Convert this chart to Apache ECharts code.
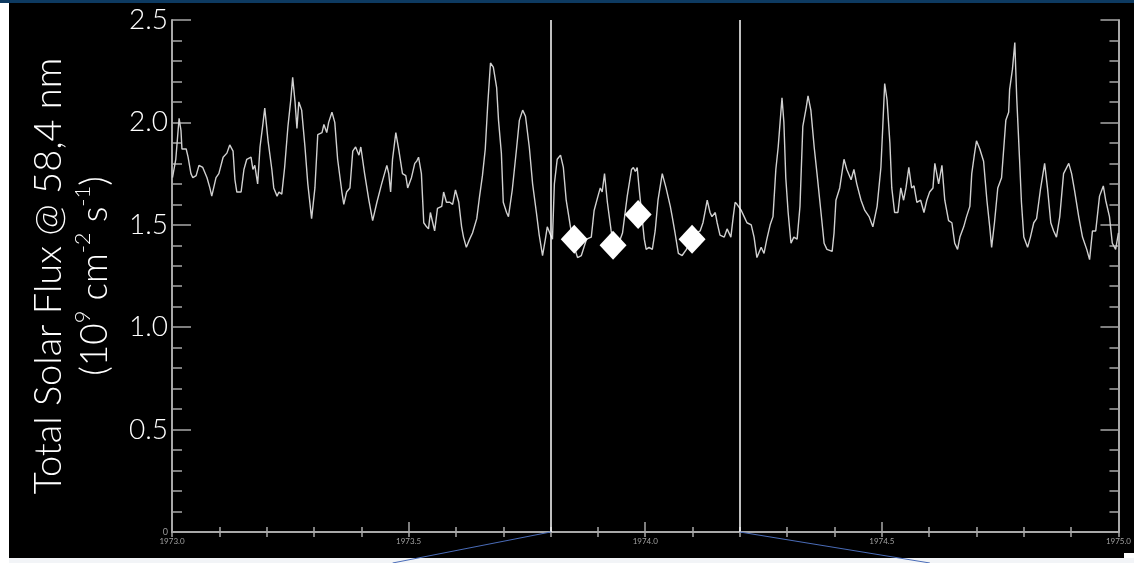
<!DOCTYPE html>
<html>
<head>
<meta charset="utf-8">
<script src="https://cdn.jsdelivr.net/npm/echarts@6/dist/echarts.min.js"></script>
<style>
html,body{margin:0;padding:0;background:#f2f4f7;}
#c{width:1134px;height:563px;}
</style>
</head>
<body>
<div id="c"></div>
<script>
// ---- data ----
const fluxSeries = [
[1973.001,1.73],[1973.008,1.82],[1973.015,2.02],[1973.019,1.96],[1973.021,1.87],[1973.030,1.87],[1973.034,1.83],[1973.040,1.75],[1973.044,1.73],[1973.051,1.74],[1973.057,1.79],[1973.065,1.78],[1973.074,1.73],[1973.080,1.68],[1973.084,1.64],[1973.093,1.73],[1973.099,1.75],[1973.108,1.83],[1973.116,1.85],[1973.122,1.89],[1973.129,1.86],[1973.133,1.72],[1973.137,1.66],[1973.146,1.66],[1973.152,1.77],[1973.158,1.82],[1973.167,1.83],[1973.171,1.77],[1973.175,1.79],[1973.181,1.70],[1973.186,1.88],[1973.192,1.99],[1973.196,2.07],[1973.203,1.91],[1973.211,1.77],[1973.215,1.68],[1973.222,1.64],[1973.226,1.66],[1973.232,1.65],[1973.238,1.78],[1973.245,1.98],[1973.251,2.11],[1973.255,2.22],[1973.260,2.10],[1973.264,1.97],[1973.268,2.10],[1973.274,2.06],[1973.281,1.88],[1973.287,1.70],[1973.295,1.53],[1973.302,1.68],[1973.308,1.94],[1973.317,1.95],[1973.321,1.99],[1973.327,1.95],[1973.331,2.00],[1973.338,2.05],[1973.344,2.00],[1973.350,1.82],[1973.359,1.66],[1973.363,1.60],[1973.369,1.66],[1973.376,1.68],[1973.382,1.86],[1973.388,1.88],[1973.395,1.84],[1973.399,1.88],
[1973.407,1.75],[1973.416,1.62],[1973.424,1.52],[1973.433,1.61],[1973.443,1.70],[1973.454,1.79],[1973.458,1.75],[1973.462,1.66],[1973.466,1.82],[1973.473,1.95],[1973.479,1.87],[1973.487,1.75],[1973.494,1.74],[1973.498,1.68],[1973.506,1.73],[1973.513,1.80],[1973.517,1.81],[1973.521,1.83],[1973.527,1.75],[1973.532,1.51],[1973.538,1.49],[1973.542,1.48],[1973.546,1.56],[1973.551,1.51],[1973.555,1.47],[1973.561,1.58],[1973.570,1.59],[1973.574,1.66],[1973.580,1.61],[1973.587,1.61],[1973.593,1.60],[1973.599,1.67],[1973.606,1.61],[1973.612,1.49],[1973.616,1.44],[1973.622,1.39],[1973.629,1.43],[1973.635,1.46],[1973.644,1.53],[1973.650,1.64],[1973.656,1.74],[1973.662,1.87],[1973.667,2.08],[1973.673,2.29],[1973.679,2.27],[1973.686,2.17],[1973.690,2.01],[1973.696,1.85],[1973.700,1.61],[1973.707,1.56],[1973.711,1.54],[1973.719,1.67],[1973.728,1.87],[1973.734,2.01],[1973.741,2.06],[1973.747,2.03],[1973.755,1.88],[1973.762,1.70],[1973.770,1.56],[1973.776,1.45],[1973.783,1.35],[1973.789,1.43],[1973.793,1.49],[1973.800,1.45],
[1973.804,1.43],[1973.808,1.70],[1973.814,1.82],[1973.821,1.84],[1973.827,1.78],[1973.833,1.62],[1973.842,1.49],[1973.850,1.39],[1973.857,1.34],[1973.865,1.35],[1973.876,1.43],[1973.886,1.44],[1973.892,1.57],[1973.899,1.63],[1973.905,1.68],[1973.909,1.66],[1973.914,1.75],[1973.920,1.61],[1973.928,1.47],[1973.935,1.38],[1973.941,1.39],[1973.952,1.46],[1973.962,1.64],[1973.971,1.77],[1973.975,1.78],[1973.979,1.76],[1973.983,1.78],[1973.987,1.68],[1973.994,1.52],[1973.998,1.43],[1974.002,1.38],[1974.008,1.39],[1974.015,1.38],[1974.021,1.47],[1974.027,1.62],[1974.036,1.75],[1974.044,1.68],[1974.053,1.59],[1974.057,1.54],[1974.063,1.46],[1974.070,1.36],[1974.078,1.35],[1974.087,1.38],[1974.097,1.43],[1974.108,1.46],[1974.116,1.47],[1974.122,1.51],[1974.127,1.57],[1974.131,1.62],[1974.137,1.56],[1974.141,1.54],[1974.148,1.56],[1974.152,1.51],[1974.158,1.45],[1974.167,1.44],[1974.173,1.48],[1974.181,1.44],[1974.186,1.54],[1974.190,1.61],[1974.194,1.60],[1974.203,1.57],
[1974.209,1.54],[1974.215,1.51],[1974.224,1.50],[1974.230,1.44],[1974.236,1.34],[1974.245,1.39],[1974.251,1.36],[1974.257,1.43],[1974.264,1.50],[1974.270,1.54],[1974.276,1.77],[1974.281,1.88],[1974.285,2.00],[1974.289,2.12],[1974.293,2.00],[1974.297,1.73],[1974.302,1.56],[1974.308,1.41],[1974.314,1.44],[1974.321,1.43],[1974.327,1.59],[1974.333,1.98],[1974.340,2.07],[1974.344,2.13],[1974.350,2.06],[1974.357,1.88],[1974.363,1.75],[1974.371,1.57],[1974.378,1.41],[1974.384,1.38],[1974.395,1.37],[1974.399,1.46],[1974.403,1.62],[1974.411,1.68],[1974.420,1.82],[1974.426,1.77],[1974.435,1.72],[1974.441,1.77],[1974.447,1.70],[1974.456,1.62],[1974.464,1.57],[1974.473,1.54],[1974.481,1.49],[1974.490,1.59],[1974.498,1.78],[1974.502,1.98],[1974.506,2.19],[1974.511,2.11],[1974.517,1.90],[1974.521,1.68],[1974.527,1.56],[1974.534,1.56],[1974.540,1.68],[1974.546,1.62],[1974.551,1.68],[1974.557,1.78],[1974.563,1.68],[1974.568,1.69],[1974.574,1.61],[1974.582,1.62],[1974.589,1.56],[1974.595,1.62],
[1974.601,1.66],[1974.608,1.68],[1974.612,1.80],[1974.620,1.70],[1974.627,1.79],[1974.633,1.62],[1974.641,1.52],[1974.648,1.51],[1974.654,1.41],[1974.660,1.38],[1974.665,1.44],[1974.673,1.49],[1974.679,1.54],[1974.686,1.59],[1974.690,1.75],[1974.696,1.85],[1974.700,1.91],[1974.707,1.87],[1974.715,1.81],[1974.722,1.62],[1974.728,1.49],[1974.732,1.39],[1974.738,1.51],[1974.745,1.68],[1974.753,1.73],[1974.757,1.73],[1974.762,2.01],[1974.768,2.05],[1974.770,2.16],[1974.776,2.26],[1974.781,2.39],[1974.785,2.12],[1974.791,1.82],[1974.795,1.61],[1974.800,1.44],[1974.808,1.39],[1974.814,1.44],[1974.821,1.51],[1974.827,1.53],[1974.835,1.67],[1974.844,1.80],[1974.850,1.68],[1974.857,1.51],[1974.863,1.47],[1974.869,1.44],[1974.876,1.54],[1974.884,1.75],[1974.888,1.75],[1974.895,1.80],[1974.901,1.75],[1974.907,1.67],[1974.916,1.54],[1974.924,1.44],[1974.933,1.38],[1974.939,1.33],[1974.945,1.47],[1974.952,1.47],[1974.960,1.64],[1974.968,1.69],[1974.973,1.62],[1974.981,1.54],[1974.987,1.41],[1974.994,1.38],[1975.000,1.46]
];
const diamondPoints = [[1973.850,1.43],[1973.932,1.40],[1973.985,1.55],[1974.099,1.43]];
const markerYears = [1973.8, 1974.2];
const xTicks = [1973.0, 1973.5, 1974.0, 1974.5, 1975.0];
const yTicks = [0, 0.5, 1.0, 1.5, 2.0, 2.5];
const yTitle1 = 'Total Solar Flux @ 58,4 nm';

const chart = echarts.init(document.getElementById('c'), null, {renderer: 'canvas'});
const axisGray = '#a8a8a8';
const FONT = 'Lato, "Open Sans", sans-serif';

const bgGraphics = [
  {type: 'rect', z: -100, shape: {x: 9, y: 3, width: 1125, height: 555}, style: {fill: '#000'}},
  {type: 'rect', z: -100, shape: {x: 0, y: 3, width: 9, height: 560}, style: {fill: '#ffffff'}},
  {type: 'rect', z: -100, shape: {x: 0, y: 0, width: 1134, height: 3}, style: {fill: '#0d3a61'}}
];

const option = {
  animation: false,
  backgroundColor: '#f2f4f7',
  grid: {left: 172, right: 14, top: 20, bottom: 31, containLabel: false},
  graphic: bgGraphics,
  xAxis: [{
    type: 'value', min: xTicks[0], max: xTicks[xTicks.length - 1], interval: 0.5,
    position: 'bottom',
    axisLine: {show: true, lineStyle: {color: axisGray, width: 2}},
    axisTick: {show: true, inside: true, length: 10, lineStyle: {color: axisGray, width: 1.5}},
    minorTick: {show: true, splitNumber: 5, length: 5, lineStyle: {color: axisGray, width: 1.5}},
    splitLine: {show: false},
    axisLabel: {show: true, color: '#a0a0a0', fontSize: 8, margin: 5, fontFamily: FONT,
      formatter: v => v.toFixed(1)}
  }, {
    type: 'value', min: xTicks[0], max: xTicks[xTicks.length - 1], interval: 0.5,
    position: 'top',
    axisLine: {show: true, lineStyle: {color: axisGray, width: 2}},
    axisTick: {show: true, inside: true, length: 5, lineStyle: {color: axisGray, width: 1.5}},
    minorTick: {show: true, splitNumber: 5, length: 5, lineStyle: {color: axisGray, width: 1.5}},
    splitLine: {show: false},
    axisLabel: {show: false}
  }],
  yAxis: [{
    type: 'value', min: yTicks[0], max: yTicks[yTicks.length - 1], interval: 0.5,
    position: 'left',
    axisLine: {show: true, lineStyle: {color: axisGray, width: 2}},
    axisTick: {show: true, inside: true, length: 19, lineStyle: {color: axisGray, width: 1.5}},
    minorTick: {show: true, splitNumber: 5, length: 10, lineStyle: {color: axisGray, width: 1.5}},
    splitLine: {show: false},
    axisLabel: {
      show: true, margin: 4,
      formatter: v => v === 0 ? '{s|0}' : '{b|' + v.toFixed(1) + '}',
      rich: {
        b: {color: '#ffffff', fontSize: 28, fontFamily: FONT, fontWeight: 300},
        s: {color: '#9a9a9a', fontSize: 9, fontFamily: FONT}
      }
    },
    name: yTitle1 + '\n{p|(10}{sup|9}{p| cm}{sup|-2}{p| s}{sup|-1}{p|)}',
    nameLocation: 'middle',
    nameGap: 54,
    nameRotate: 90,
    nameTextStyle: {
      color: '#ffffff', fontSize: 38, fontFamily: FONT, fontWeight: 300, lineHeight: 46,
      rich: {
        p: {color: '#ffffff', fontSize: 37, fontFamily: FONT, fontWeight: 300, lineHeight: 46},
        sup: {color: '#ffffff', fontSize: 22, fontFamily: FONT, fontWeight: 300, lineHeight: 42, verticalAlign: 'top'}
      }
    }
  }, {
    type: 'value', min: yTicks[0], max: yTicks[yTicks.length - 1], interval: 0.5,
    position: 'right',
    axisLine: {show: true, lineStyle: {color: axisGray, width: 2}},
    axisTick: {show: true, inside: true, length: 18, lineStyle: {color: axisGray, width: 1.5}},
    minorTick: {show: true, splitNumber: 5, length: 9, lineStyle: {color: axisGray, width: 1.5}},
    splitLine: {show: false},
    axisLabel: {show: false}
  }],
  series: [{
    type: 'line',
    xAxisIndex: 0, yAxisIndex: 0,
    data: fluxSeries,
    showSymbol: false,
    symbol: 'none',
    lineStyle: {color: '#d0d0d0', width: 1.4},
    z: 3,
    markLine: {
      silent: true,
      symbol: ['none', 'none'],
      label: {show: false},
      lineStyle: {color: '#ffffff', width: 1.5, type: 'solid', opacity: 1},
      data: markerYears.map(v => ({xAxis: v}))
    }
  }, {
    type: 'scatter',
    xAxisIndex: 0, yAxisIndex: 0,
    data: diamondPoints,
    symbol: 'diamond',
    symbolSize: [27, 29],
    itemStyle: {color: '#ffffff', opacity: 1},
    z: 6
  }]
};
chart.setOption(option);

// connector lines from the zoom markers to the bottom edge
const p1 = chart.convertToPixel({xAxisIndex: 0, yAxisIndex: 0}, [markerYears[0], 0]);
const p2 = chart.convertToPixel({xAxisIndex: 0, yAxisIndex: 0}, [markerYears[1], 0]);
chart.setOption({
  graphic: bgGraphics.concat([
    {type: 'line', z: 10, shape: {x1: p1[0], y1: p1[1], x2: p1[0] - 158, y2: 563}, style: {stroke: '#4a6cb8', lineWidth: 1}},
    {type: 'line', z: 10, shape: {x1: p2[0], y1: p2[1], x2: p2[0] + 190, y2: 563}, style: {stroke: '#4a6cb8', lineWidth: 1}},
    {type: 'rect', z: 10, shape: {x: 1124, y: 553, width: 10, height: 5}, style: {fill: '#ffffff'}}
  ])
}, {replaceMerge: ['graphic']});
</script>
</body>
</html>
